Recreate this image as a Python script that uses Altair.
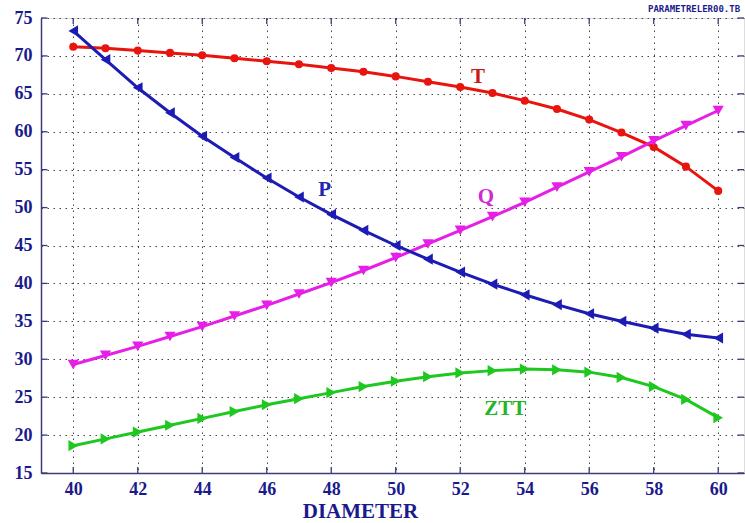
import altair as alt
import pandas as pd

diameter = list(range(40, 61))
T_vals = [71.2, 71.0, 70.7, 70.4, 70.1, 69.7, 69.3, 68.9, 68.4, 67.9, 67.3,
          66.6, 65.9, 65.1, 64.1, 63.0, 61.6, 59.9, 58.0, 55.4, 52.2]
P_vals = [73.3, 69.5, 65.8, 62.5, 59.4, 56.6, 53.9, 51.4, 49.1, 47.0, 45.0,
          43.2, 41.5, 39.9, 38.5, 37.2, 36.0, 35.0, 34.1, 33.3, 32.8]
Q_vals = [29.3, 30.5, 31.7, 33.0, 34.3, 35.7, 37.1, 38.6, 40.1, 41.7, 43.4,
          45.2, 47.0, 48.8, 50.7, 52.7, 54.7, 56.7, 58.8, 60.8, 62.8]
ZTT_vals = [18.6, 19.5, 20.4, 21.3, 22.2, 23.1, 24.0, 24.8, 25.6, 26.4, 27.1,
            27.7, 28.2, 28.5, 28.7, 28.6, 28.3, 27.6, 26.4, 24.7, 22.3]

series_names = ["T", "Q", "P", "ZTT"]
series_values = {"T": T_vals, "P": P_vals, "Q": Q_vals, "ZTT": ZTT_vals}
line_colors = {"T": "#e8140e", "P": "#1c1cb4", "Q": "#e61ee6", "ZTT": "#1ec81e"}
label_colors = {"T": "#c81818", "P": "#2424b4", "Q": "#d02ad0", "ZTT": "#28b428"}
shapes = {"T": "circle", "P": "triangle-left", "Q": "triangle-down", "ZTT": "triangle-right"}
marker_sizes = {"T": 65, "P": 125, "Q": 125, "ZTT": 125}

label_x = {"T": 52.55, "P": 47.8, "Q": 52.8, "ZTT": 53.4}
label_y = {"T": 67.2, "P": 52.3, "Q": 51.4, "ZTT": 23.5}

file_label = "PARAMETRELER00.TB"

x_ticks = list(range(40, 61, 2))
y_ticks = list(range(15, 76, 5))

XMIN, XMAX = 39, 60.8
YMIN, YMAX = 15, 75

FONT = "Liberation Serif"
NAVY = "#1a1a8c"
FRAME = "#3c3c7c"

x_scale = alt.Scale(domain=[XMIN, XMAX], nice=False, zero=False)
y_scale = alt.Scale(domain=[YMIN, YMAX], nice=False, zero=False)

x_axis = alt.Axis(values=x_ticks, title="DIAMETER", labelFont=FONT, labelFontWeight="bold",
                  labelFontSize=18, labelColor=NAVY, labelPadding=7, tickSize=0,
                  labelOverlap=False,
                  grid=True, gridDash=[1.5, 4.5], gridColor="#444444", gridWidth=1,
                  domainColor=FRAME, domainWidth=1.5,
                  titleFont=FONT, titleFontWeight="bold", titleFontSize=21, titleColor=NAVY,
                  titleX=319, titleY=44, titleBaseline="alphabetic", titleAlign="center")
y_axis = alt.Axis(values=y_ticks, title=None, labelFont=FONT, labelFontWeight="bold",
                  labelFontSize=18, labelColor=NAVY, labelPadding=9, tickSize=0,
                  labelOverlap=False, labelFlush=False,
                  grid=True, gridDash=[1.5, 4.5], gridColor="#444444", gridWidth=1,
                  domainColor=FRAME, domainWidth=1.5)


def X(f="x:Q"):
    return alt.X(f, scale=x_scale, axis=x_axis)


def Y(f="y:Q"):
    return alt.Y(f, scale=y_scale, axis=y_axis)


layers = []

# inward tick marks
n_x, n_y = len(x_ticks), len(y_ticks)
tx = pd.DataFrame({"x": x_ticks, "y0": [YMIN] * n_x, "y1": [YMIN + 0.8] * n_x,
                   "y2": [YMAX - 0.8] * n_x, "y3": [YMAX] * n_x})
ty = pd.DataFrame({"y": y_ticks, "x0": [XMIN] * n_y, "x1": [XMIN + 0.2] * n_y,
                   "x2": [XMAX - 0.2] * n_y, "x3": [XMAX] * n_y})
tick_color = FRAME
layers.append(alt.Chart(tx).mark_rule(color=tick_color, strokeWidth=1.3).encode(
    x=X(), y=Y("y0:Q"), y2="y1:Q"))
layers.append(alt.Chart(tx).mark_rule(color=tick_color, strokeWidth=1.3).encode(
    x=X(), y=Y("y2:Q"), y2="y3:Q"))
layers.append(alt.Chart(ty).mark_rule(color=tick_color, strokeWidth=1.3).encode(
    y=Y(), x=X("x0:Q"), x2="x1:Q"))
layers.append(alt.Chart(ty).mark_rule(color=tick_color, strokeWidth=1.3).encode(
    y=Y(), x=X("x2:Q"), x2="x3:Q"))

for name in series_names:
    df = pd.DataFrame({"x": diameter, "y": series_values[name]})
    c = line_colors[name]
    layers.append(alt.Chart(df).mark_line(color=c, strokeWidth=3).encode(x=X(), y=Y()))
    layers.append(alt.Chart(df).mark_point(color=c, filled=True, opacity=1, shape=shapes[name],
                                           size=marker_sizes[name]).encode(x=X(), y=Y()))
    ldf = pd.DataFrame({"x": [label_x[name]], "y": [label_y[name]], "t": [name]})
    layers.append(alt.Chart(ldf).mark_text(font=FONT, fontWeight="bold", fontSize=21,
                                           color=label_colors[name]).encode(
        x=X(), y=Y(), text="t:N"))

# file name annotation at top right
fdf = pd.DataFrame({"x": [XMAX - 0.12], "y": [YMAX + 0.75], "t": [file_label]})
layers.append(alt.Chart(fdf).mark_text(font="DejaVu Sans Mono", fontWeight="bold", fontSize=9,
                                       color=NAVY, align="right", baseline="alphabetic",
                                       clip=False).encode(x=X(), y=Y(), text="t:N"))

chart = alt.layer(*layers).properties(
    width=703, height=455,
    padding={"left": 41, "top": 18, "right": 1, "bottom": 50},
    autosize=alt.AutoSizeParams(type="none"),
).configure_view(stroke=FRAME, strokeWidth=1.5).configure(background="white").configure_axis(
    labelOverlap=False
)

chart.save("out.html", embed_options={"renderer": "svg", "actions": False})
